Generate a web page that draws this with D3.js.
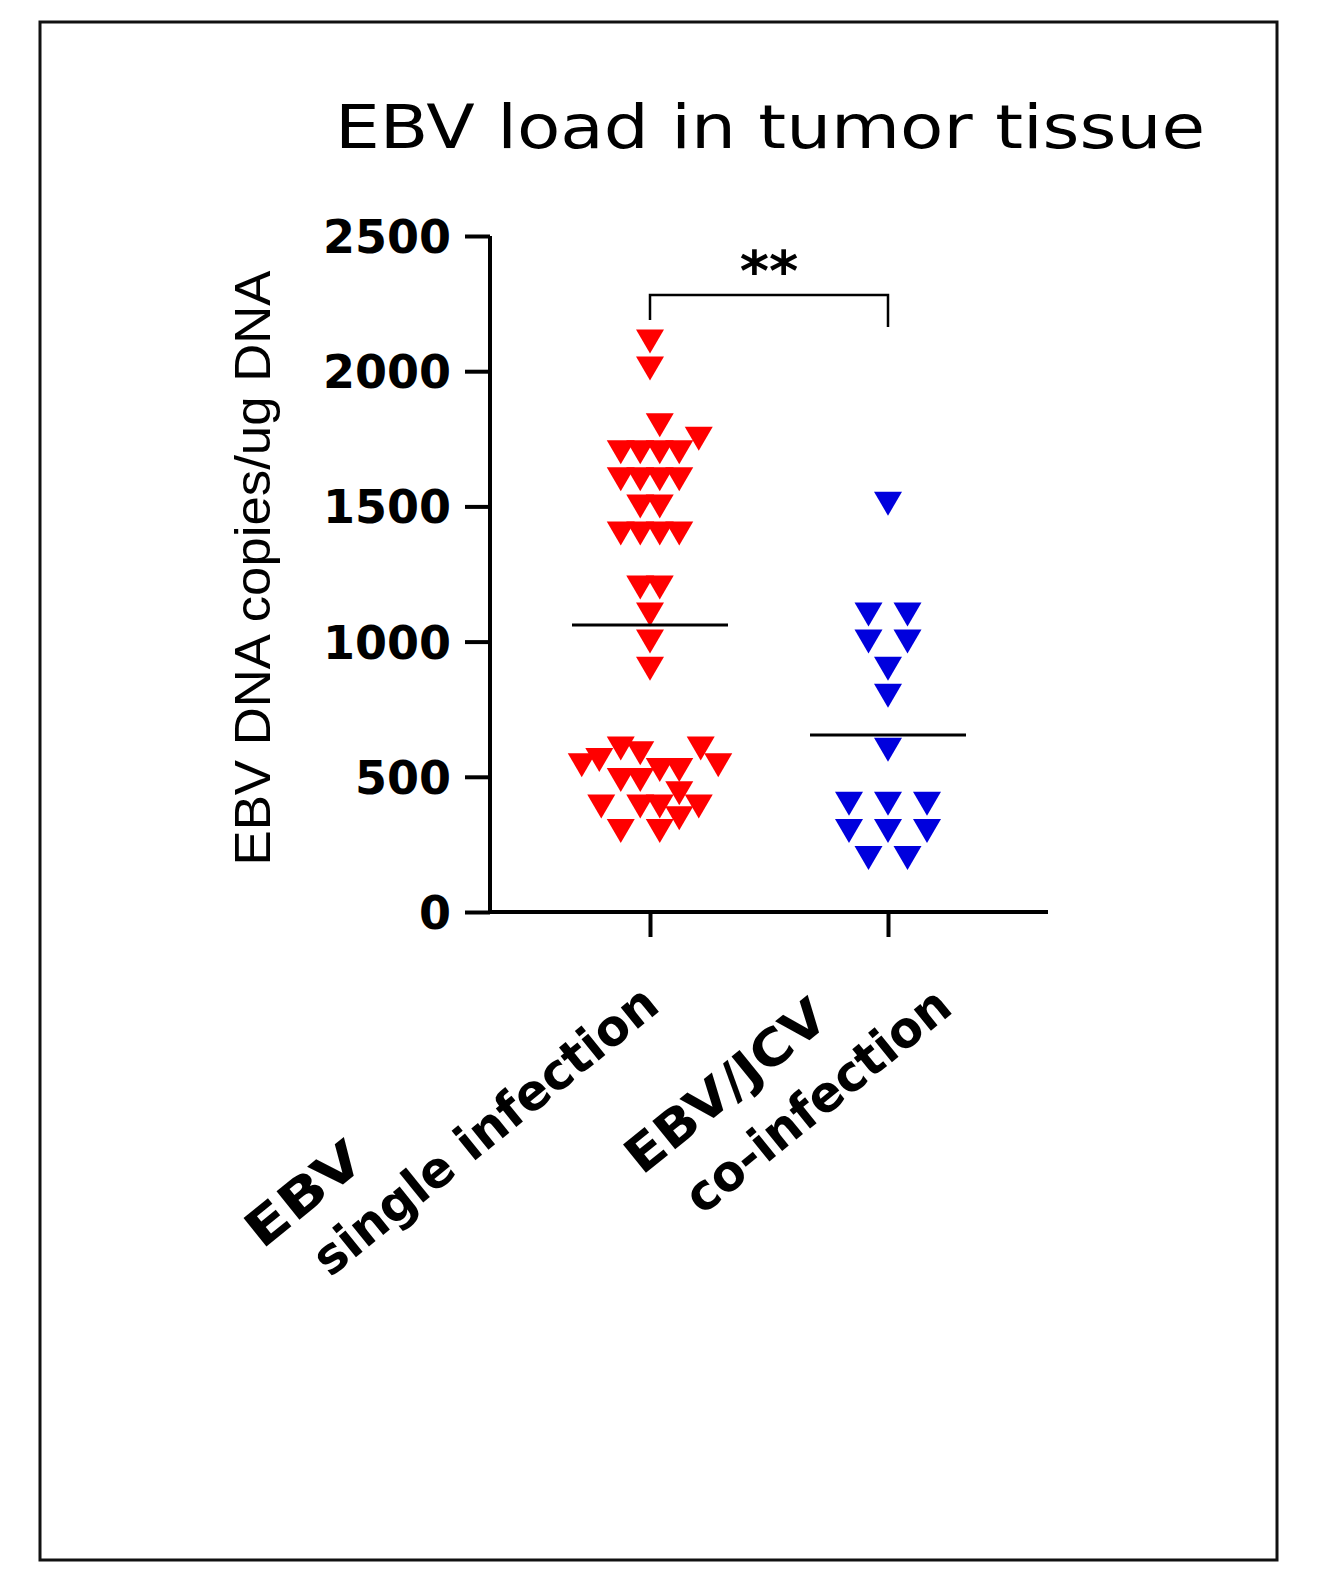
<!DOCTYPE html><html><head><meta charset="utf-8"><script src="https://cdn.jsdelivr.net/npm/d3@7"></script>
<style>body{margin:0;background:#fff}</style></head><body><svg id="c" width="1329" height="1588"></svg>
<script>
const categories=["EBV single infection","EBV/JCV co-infection"];
const yTicks=[0,500,1000,1500,2000,2500];
// [value, horizontal offset in jitter slots]
const redValues=[2110,2010,1800,1750,1700,1700,1700,1700,1600,1600,1600,1600,1500,1500,1400,1400,1400,1400,1200,1200,1100,1000,900,
 605,605,587,562,543,543,525,525,488,488,439,390,390,390,390,347,300,300];
const redSlots=[0,0,0.5,2.5,-1.5,-0.5,0.5,1.5,-1.5,-0.5,0.5,1.5,-0.5,0.5,-1.5,-0.5,0.5,1.5,-0.5,0.5,0,0,0,
 -1.5,2.6,-0.5,-2.6,-3.5,3.5,0.5,1.5,-1.5,-0.5,1.5,-2.5,-0.5,0.5,2.5,1.5,-1.5,0.5];
const blueValues=[1510,1100,1100,1000,1000,900,800,600,400,400,400,300,300,300,200,200];
const blueSlots=[0,-1,1,-1,1,0,0,0,-2,0,2,-2,0,2,-1,1];
const means=[1061,655];
const svg=d3.select("#c");
svg.append("rect").attr("x",40).attr("y",22).attr("width",1237).attr("height",1538).attr("fill","none").attr("stroke","#111").attr("stroke-width",3);
const y=d3.scaleLinear().domain([0,2500]).range([912,236]);
const x=d3.scaleOrdinal().domain(categories).range([650,888]);
const slot=19.5;
svg.append("text").attr("x",335).attr("y",148).attr("font-family","DejaVu Sans").attr("font-size",60).attr("textLength",870).attr("lengthAdjust","spacingAndGlyphs").text("EBV load in tumor tissue");
const ya=svg.append("g").attr("transform","translate(490,0)").call(d3.axisLeft(y).tickValues(yTicks).tickFormat(d3.format("d")).tickSize(25).tickPadding(14));
ya.select(".domain").attr("stroke-width",4).attr("d","M0,236V912");
ya.selectAll(".tick line").attr("stroke-width",4);
ya.selectAll("text").attr("font-family","DejaVu Sans").attr("font-weight","bold").attr("font-size",46).attr("dy","0.36em");
const xa=svg.append("g").attr("transform","translate(0,912)").call(d3.axisBottom(x).tickSize(25).tickFormat(""));
xa.select(".domain").attr("stroke-width",4).attr("d","M490,0H1048");
xa.selectAll(".tick line").attr("stroke-width",4);
svg.append("text").attr("transform","translate(270,568) rotate(-90)").attr("text-anchor","middle").attr("font-family","Liberation Sans, Arial").attr("font-size",50).attr("textLength",595).attr("lengthAdjust","spacingAndGlyphs").text("EBV DNA copies/ug DNA");
const labs=[["EBV",262,1250,135],["single infection",330,1278,427],["EBV/JCV",642,1176,243],["co-infection",702,1216,325]];
labs.forEach(l=>svg.append("text").attr("transform",`translate(${l[1]},${l[2]}) rotate(-39)`).attr("font-family","DejaVu Sans").attr("font-weight","bold").attr("font-size",50).attr("textLength",l[3]).attr("lengthAdjust","spacingAndGlyphs").text(l[0]));
const tri="M-14,-12L14,-12L0,12Z";
function pts(vals,slots,cat,col){svg.append("g").selectAll("path").data(vals).join("path").attr("d",tri).attr("fill",col)
 .attr("transform",(d,i)=>`translate(${x(cat)+slots[i]*slot},${y(d)})`);}
pts(redValues,redSlots,categories[0],"#ff0000");
pts(blueValues,blueSlots,categories[1],"#0000dd");
means.forEach((m,i)=>svg.append("line").attr("x1",x(categories[i])-78).attr("x2",x(categories[i])+78).attr("y1",y(m)).attr("y2",y(m)).attr("stroke","#000").attr("stroke-width",3));
svg.append("path").attr("d",`M${x(categories[0])},320V295H${x(categories[1])}V327`).attr("fill","none").attr("stroke","#000").attr("stroke-width",2.5);
svg.append("text").attr("x",769).attr("y",290).attr("text-anchor","middle").attr("font-family","DejaVu Sans").attr("font-weight","bold").attr("font-size",56).text("**");
</script></body></html>
